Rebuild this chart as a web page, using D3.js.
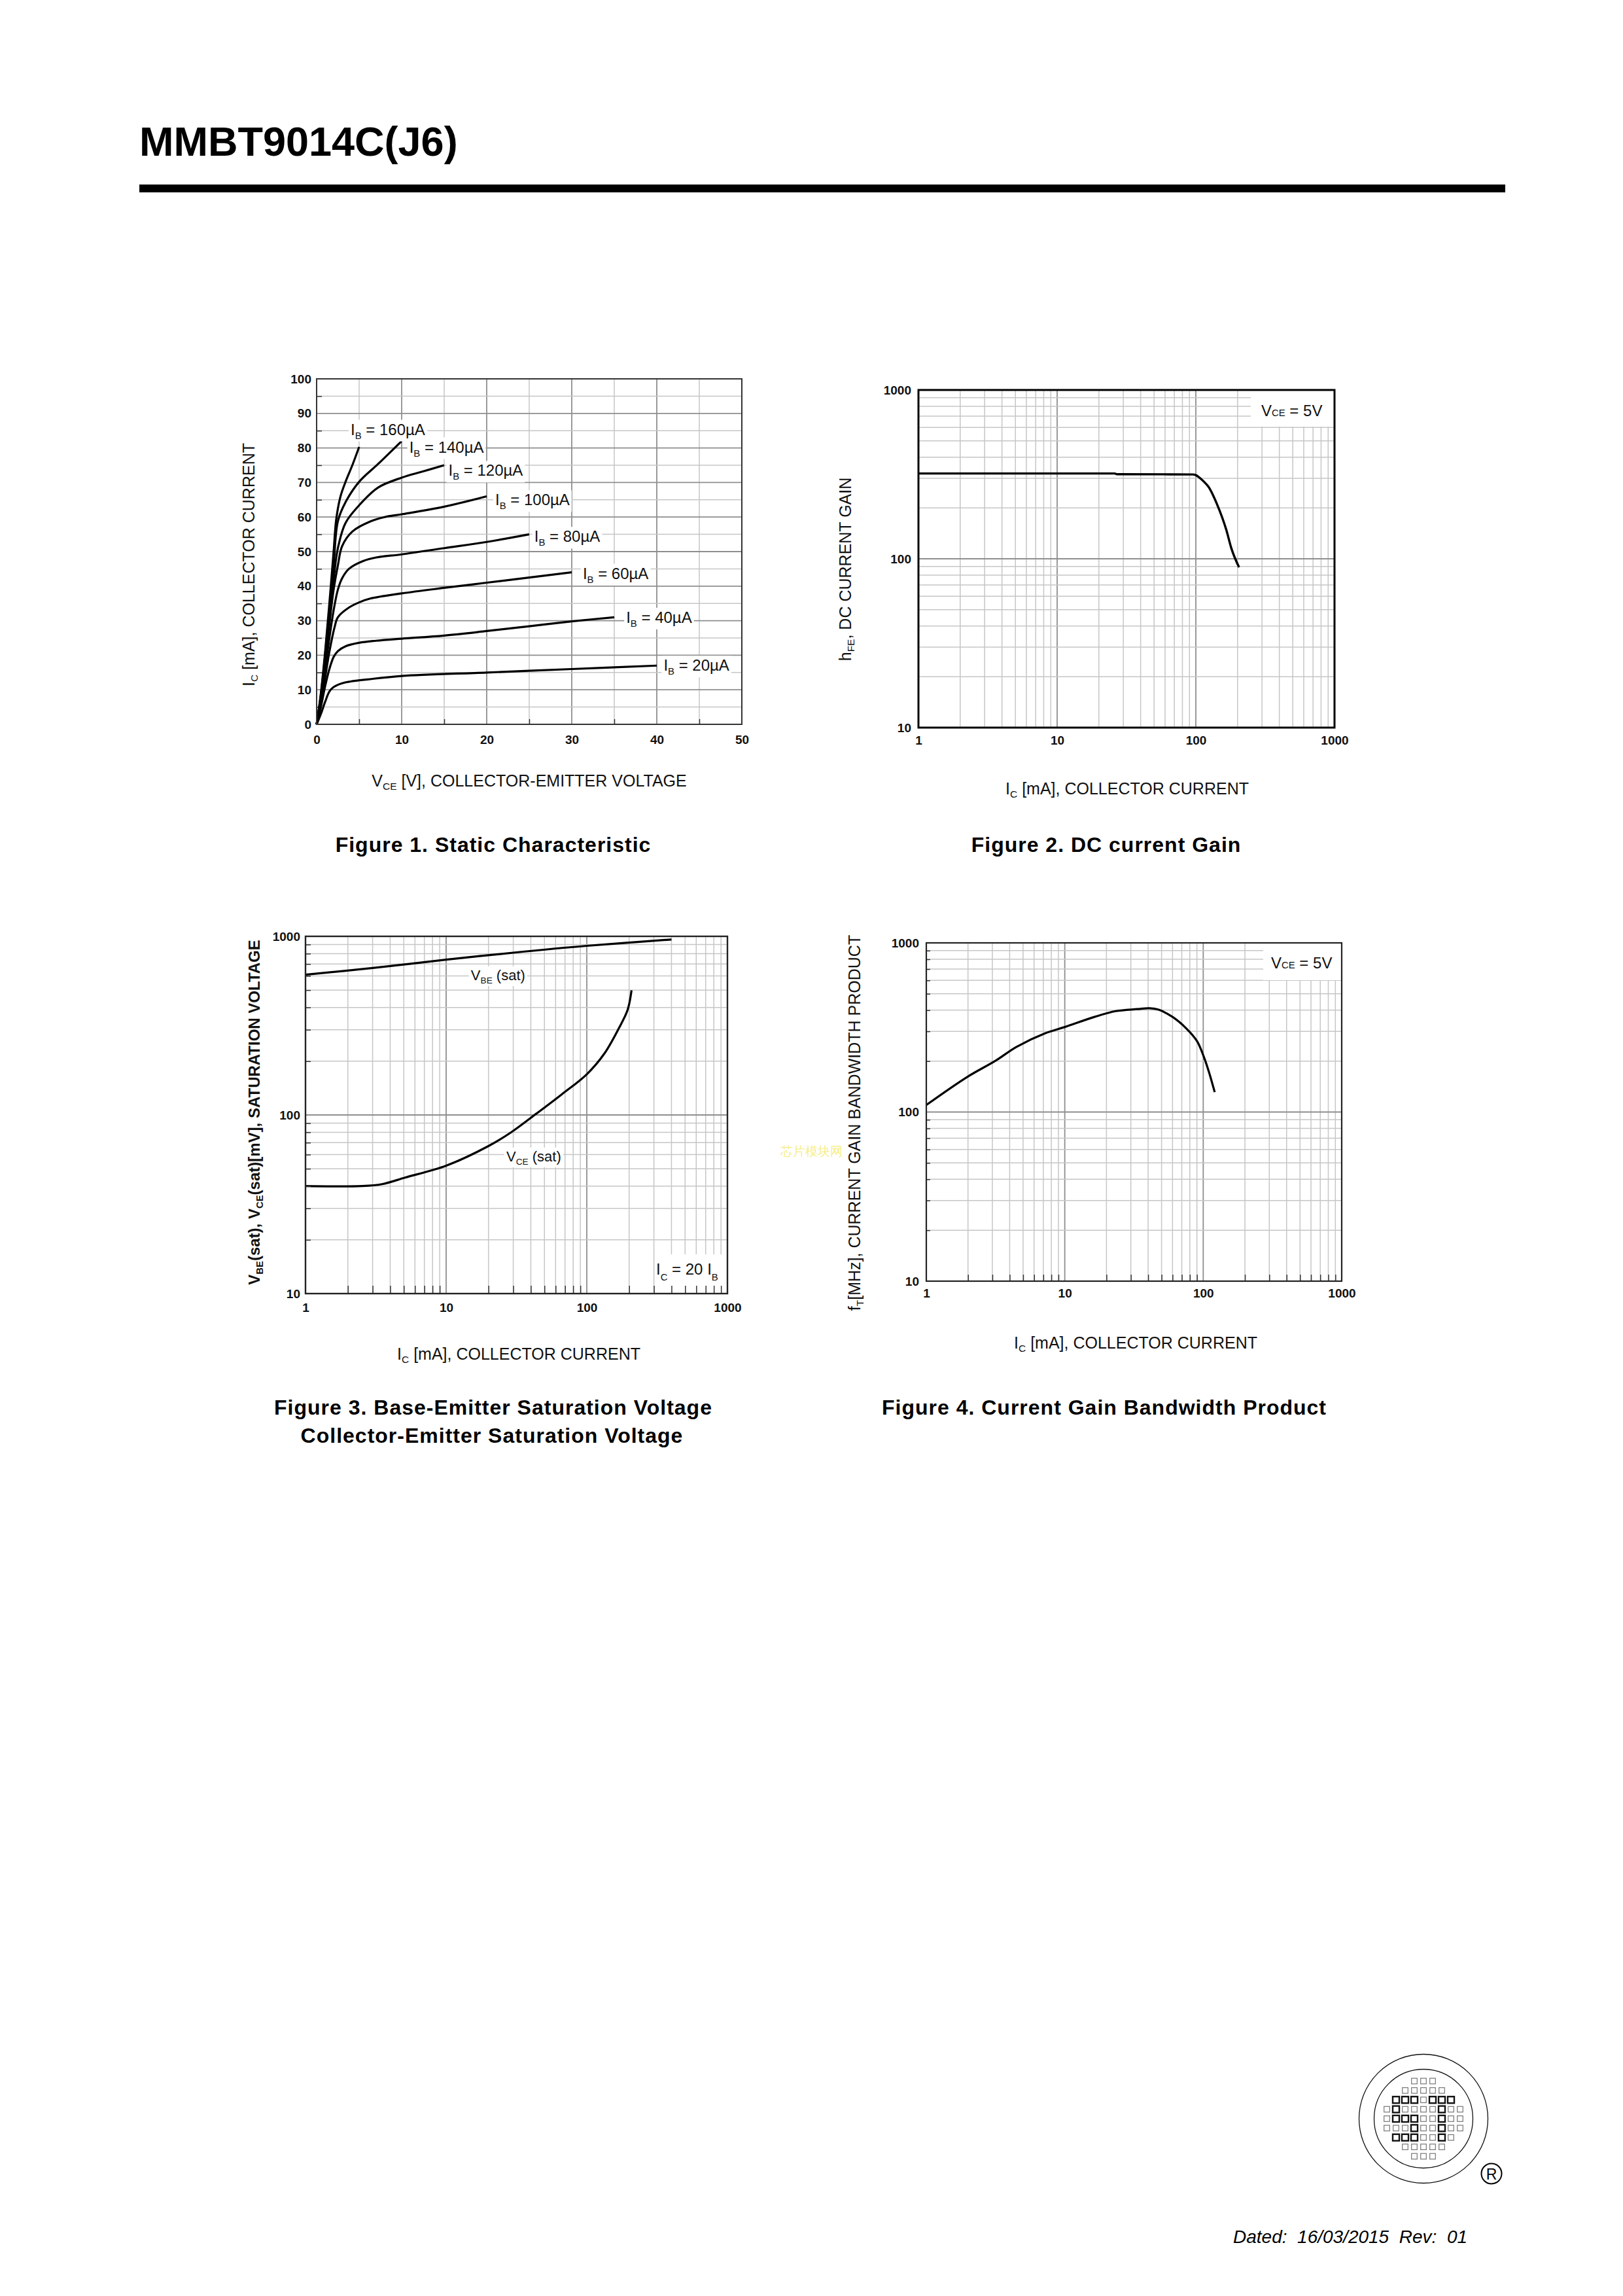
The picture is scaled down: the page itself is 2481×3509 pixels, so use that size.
<!DOCTYPE html>
<html>
<head>
<meta charset="utf-8">
<script src="https://cdn.jsdelivr.net/npm/d3@7"></script>
<style>
  body { margin: 0; background: #fff; }
  text { font-family: "Liberation Sans", Arial, Helvetica, sans-serif; }
</style>
</head>
<body>
<svg id="page"></svg>
<script>
// ---- Figure 1: static characteristic (VCE [V], IC [mA]) ----
const ibLevels = [20, 40, 60, 80, 100, 120, 140, 160];
const icCurves = [
  [[0,0],[0.5,3],[1,6.5],[1.5,9.5],[2,10.8],[3,11.9],[4,12.4],[6,13],[10,14],[20,15],[30,16],[40,17]],
  [[0,0],[0.5,5],[1,11],[1.5,16],[2,19.5],[2.5,21.2],[3.4,22.6],[5,23.6],[7,24.2],[10,24.8],[15,25.7],[20,27],[25,28.4],[30,29.8],[35,31]],
  [[0,0],[0.5,6],[1,13.5],[1.5,21],[2.1,28],[2.5,31],[3.8,33.8],[5,35.3],[6.3,36.4],[10,37.9],[15,39.5],[20,41],[25,42.5],[30,44]],
  [[0,0],[0.5,7],[1,16],[1.5,25],[2,33],[2.5,39],[3,42.3],[3.8,45],[5.5,47.3],[7,48.3],[10,49.2],[15,51],[20,52.8],[25,55]],
  [[0,0],[0.5,7.5],[1,18],[1.5,29],[2,39],[2.5,46],[3,51.6],[4.2,55.8],[6.3,58.7],[8,60],[10,60.8],[15,63],[20,66]],
  [[0,0],[0.5,8],[1,19],[1.5,31],[2,42],[2.5,51],[3.4,58.3],[5,63.4],[7.2,68.5],[10,71.4],[12.5,73.2],[15,75]],
  [[0,0],[0.5,8.5],[1,20],[1.5,33],[2,46],[2.5,58.8],[3.4,64.3],[5,70.2],[7.2,75.3],[10,82]],
  [[0,0],[0.5,9],[1,21],[1.5,35],[2,50],[2.3,59.2],[2.8,65.9],[3.4,70.2],[4.2,75],[5,80.3]]
];
const ibLabelAt = [[40.8,17.1],[36.4,31],[31.3,43.7],[25.6,54.4],[21,65],[15.5,73.5],[10.9,80.3],[4,85.4]];
const vceTicks = [0, 10, 20, 30, 40, 50];
const icTicks = [0, 10, 20, 30, 40, 50, 60, 70, 80, 90, 100];

// ---- Figure 2: DC current gain ----
const hfeIc  = [1, 10, 26, 27, 95, 100, 105, 115, 123, 142, 166, 180, 205];
const hfeVal = [320, 320, 320, 317, 316, 313, 305, 285, 268, 211, 148, 116, 89];

// ---- Figure 3: saturation voltages [mV] vs IC [mA] ----
const vbeSat = [[1,610],[3,665],[10,740],[30,810],[100,885],[400,960]];
const vceSat = [[1,40],[2.5,40],[3.5,41],[5.1,44.6],[10,52],[20,67],[29,80],[44,102],[66,130],[100,169],[133,220],[168,303],[195,387],[208,499]];

// ---- Figure 4: fT [MHz] vs IC [mA] ----
const ftCurve = [[1,110],[1.97,161],[3.16,201],[4.49,243],[7.2,292],[10,318],[16.4,365],[23.4,395],[33.4,406],[41,411],[47.5,403],[60,365],[75.5,312],[90,263],[101,212],[111,168],[121,131]];

const decadeTicks = [1, 10, 100, 1000];
const gainTicks = [10, 100, 1000];

const logoRows = [
  "...ooo...",
  "..ooooo..",
  ".XXXoXXX.",
  "oXooooXoo",
  "oXXXooXoo",
  "oooXooXoo",
  ".XXXooXo.",
  "..ooooo..",
  "...ooo..."
];

const MAJOR = "#8e8e8e", MINOR = "#c6c6c6", INK = "#111";

const svg = d3.select("#page").attr("width", 2481).attr("height", 3509);
svg.append("rect").attr("width", 2481).attr("height", 3509).attr("fill", "#fff");

// text made of normal and subscript runs
function rich(sel, parts, drop) {
  let down = false;
  parts.forEach(([s, sub]) => {
    const t = sel.append("tspan").text(s);
    if (sub) { t.attr("font-size", "0.62em").attr("dy", drop); down = true; }
    else if (down) { t.attr("dy", -drop); down = false; }
  });
  return sel;
}

function grid(g, x, y, xs, ys, majX, majY) {
  const [y0, y1] = y.range(), [x0, x1] = x.range();
  const vx = xs.slice().sort((a, b) => majX(a) - majX(b));
  const hy = ys.slice().sort((a, b) => majY(a) - majY(b));
  g.append("g").selectAll("line").data(vx).join("line")
    .attr("x1", d => x(d)).attr("x2", d => x(d)).attr("y1", y0).attr("y2", y1)
    .attr("stroke", d => majX(d) ? MAJOR : MINOR).attr("stroke-width", d => majX(d) ? 1.8 : 1.5);
  g.append("g").selectAll("line").data(hy).join("line")
    .attr("y1", d => y(d)).attr("y2", d => y(d)).attr("x1", x0).attr("x2", x1)
    .attr("stroke", d => majY(d) ? MAJOR : MINOR).attr("stroke-width", d => majY(d) ? 1.8 : 1.5);
}

function axes(g, x, y, xVals, yVals, padX, padY) {
  const style = a => a.attr("font-family", '"Liberation Sans", Arial, sans-serif')
    .attr("font-size", 19).attr("font-weight", "bold")
    .call(s => s.select(".domain").remove())
    .call(s => s.selectAll("text").attr("fill", INK));
  g.append("g").attr("transform", `translate(0,${y.range()[0]})`)
    .call(d3.axisBottom(x).tickValues(xVals).tickSize(0).tickPadding(padX).tickFormat(d3.format("d")))
    .call(style);
  g.append("g").attr("transform", `translate(${x.range()[0]},0)`)
    .call(d3.axisLeft(y).tickValues(yVals).tickSize(0).tickPadding(padY).tickFormat(d3.format("d")))
    .call(style);
}

function innerTicks(g, x, y, xs, ys, lenX, lenY) {
  const clean = a => a.call(s => s.select(".domain").remove())
    .call(s => s.selectAll("line").attr("stroke", "#333").attr("stroke-width", 1.5));
  g.append("g").attr("transform", `translate(0,${y.range()[0]})`)
    .call(d3.axisBottom(x).tickValues(xs).tickSize(-lenX).tickFormat("")).call(clean);
  g.append("g").attr("transform", `translate(${x.range()[0]},0)`)
    .call(d3.axisLeft(y).tickValues(ys).tickSize(-lenY).tickFormat("")).call(clean);
}

function frame(g, x, y, color, w) {
  const [x0, x1] = x.range(), [y0, y1] = y.range();
  g.append("rect").attr("x", x0).attr("y", y1).attr("width", x1 - x0).attr("height", y0 - y1)
    .attr("fill", "none").attr("stroke", color).attr("stroke-width", w);
}

function yTitle(cx, cy, parts, size, weight) {
  const t = svg.append("text").attr("transform", `translate(${cx},${cy}) rotate(-90)`)
    .attr("text-anchor", "middle").attr("dy", "0.36em").attr("font-size", size)
    .attr("font-weight", weight || "normal").attr("fill", INK);
  return rich(t, parts, 5);
}

function xTitle(cx, base, parts) {
  const t = svg.append("text").attr("x", cx).attr("y", base).attr("text-anchor", "middle")
    .attr("font-size", 25).attr("fill", INK);
  return rich(t, parts, 5);
}

function boxedLabel(g, px, py, parts, size, drop, pad) {
  const t = g.append("text").attr("x", px).attr("y", py).attr("font-size", size).attr("fill", INK);
  rich(t, parts, drop);
  const b = t.node().getBBox();
  g.insert("rect", () => t.node()).attr("x", b.x - pad).attr("y", b.y - 1)
    .attr("width", b.width + 2 * pad).attr("height", b.height + 2).attr("fill", "#fff");
}

const logTicks = x => x.ticks().filter(d => d >= x.domain()[0] && d <= x.domain()[1]);
const isDecade = d => Math.abs(Math.log10(d) - Math.round(Math.log10(d))) < 1e-9;
const minorLog = x => logTicks(x).filter(d => !isDecade(d));
const smooth = d3.curveCatmullRom.alpha(0.5);

// ================= Header =================
svg.append("text").attr("x", 213).attr("y", 238).attr("font-size", 63).attr("font-weight", "bold")
  .attr("fill", "#000").text("MMBT9014C(J6)");
svg.append("rect").attr("x", 213).attr("y", 282).attr("width", 2088).attr("height", 12).attr("fill", "#000");

// ================= Figure 1 =================
{
  const x = d3.scaleLinear([0, 50], [484, 1134]);
  const y = d3.scaleLinear([0, 100], [1107, 579]);
  const g = svg.append("g");
  const gx = d3.range(0, 51, 5), gy = d3.range(0, 101, 5);
  grid(g, x, y, gx, gy, d => d % 10 === 0, d => d % 10 === 0);
  innerTicks(g, x, y, gx.filter(d => d % 10), gy.filter(d => d % 10), 8, 8);
  const line = d3.line().x(d => x(d[0])).y(d => y(d[1])).curve(smooth);
  g.append("g").selectAll("path").data(icCurves).join("path")
    .attr("d", line).attr("fill", "none").attr("stroke", "#000").attr("stroke-width", 3.2)
    .attr("stroke-linejoin", "round");
  ibLevels.forEach((ib, i) => {
    const [v, ma] = ibLabelAt[i];
    boxedLabel(g, x(v), y(ma) + 8.5, [["I", 0], ["B", 1], [` = ${ib}µA`, 0]], 24, 6, 3);
  });
  frame(g, x, y, "#333", 2);
  axes(g, x, y, vceTicks, icTicks, 16.5, 8);
  yTitle(380, 863, [["I", 0], ["C", 1], [" [mA], COLLECTOR CURRENT", 0]], 25);
  xTitle(809, 1202, [["V", 0], ["CE", 1], [" [V], COLLECTOR-EMITTER VOLTAGE", 0]]);
}

// ================= Figure 2 =================
{
  const x = d3.scaleLog([1, 1000], [1404, 2040]);
  const y = d3.scaleLog([10, 1000], [1112, 596]);
  const g = svg.append("g");
  grid(g, x, y, logTicks(x), logTicks(y), isDecade, isDecade);
  g.append("rect").attr("x", 1912).attr("y", 596).attr("width", 128).attr("height", 56).attr("fill", "#fff");
  const t = g.append("text").attr("x", 1928).attr("y", 636).attr("font-size", 24).attr("fill", INK);
  rich(t, [["V", 0], ["CE", 1], [" = 5V", 0]], 0);
  const line = d3.line().x(d => x(d[0])).y(d => y(d[1])).curve(d3.curveMonotoneX);
  g.append("path").datum(hfeIc.map((c, i) => [c, hfeVal[i]]))
    .attr("d", line).attr("fill", "none").attr("stroke", "#000").attr("stroke-width", 3.4);
  frame(g, x, y, "#000", 3);
  axes(g, x, y, decadeTicks, gainTicks, 12.5, 11);
  yTitle(1292, 870, [["h", 0], ["FE", 1], [", DC CURRENT GAIN", 0]], 25);
  xTitle(1723, 1214, [["I", 0], ["C", 1], [" [mA], COLLECTOR CURRENT", 0]]);
}

// ================= Figure 3 =================
{
  const x = d3.scaleLog([1, 1000], [467, 1112]);
  const y = d3.scaleLog([10, 1000], [1977, 1431]);
  const g = svg.append("g");
  grid(g, x, y, logTicks(x), logTicks(y), isDecade, isDecade);
  const line = d3.line().x(d => x(d[0])).y(d => y(d[1])).curve(smooth);
  g.append("g").selectAll("path").data([vbeSat, vceSat]).join("path")
    .attr("d", line).attr("fill", "none").attr("stroke", "#000").attr("stroke-width", 3.2);
  boxedLabel(g, x(15), y(569), [["V", 0], ["BE", 1], [" (sat)", 0]], 22, 5, 3);
  boxedLabel(g, x(26.8), y(55), [["V", 0], ["CE", 1], [" (sat)", 0]], 22, 5, 3);
  g.append("rect").attr("x", 1001).attr("y", 1917).attr("width", 111).attr("height", 60).attr("fill", "#fff");
  const t = g.append("text").attr("x", 1003).attr("y", 1948).attr("font-size", 24).attr("fill", INK);
  rich(t, [["I", 0], ["C", 1], [" = 20 I", 0], ["B", 1]], 9);
  innerTicks(g, x, y, minorLog(x), minorLog(y), 12, 8);
  frame(g, x, y, "#222", 2.4);
  axes(g, x, y, decadeTicks, gainTicks, 14.5, 8);
  yTitle(388, 1700, [["V", 0], ["BE", 1], ["(sat), V", 0], ["CE", 1], ["(sat)[mV], SATURATION VOLTAGE", 0]], 24, "bold");
  xTitle(793, 2078, [["I", 0], ["C", 1], [" [mA], COLLECTOR CURRENT", 0]]);
}

// ================= Figure 4 =================
{
  const x = d3.scaleLog([1, 1000], [1416, 2051]);
  const y = d3.scaleLog([10, 1000], [1958, 1441]);
  const g = svg.append("g");
  grid(g, x, y, logTicks(x), logTicks(y), isDecade, isDecade);
  g.append("rect").attr("x", 1931).attr("y", 1441).attr("width", 120).attr("height", 57).attr("fill", "#fff");
  const t = g.append("text").attr("x", 1943).attr("y", 1480).attr("font-size", 24).attr("fill", INK);
  rich(t, [["V", 0], ["CE", 1], [" = 5V", 0]], 0);
  const line = d3.line().x(d => x(d[0])).y(d => y(d[1])).curve(smooth);
  g.append("path").datum(ftCurve)
    .attr("d", line).attr("fill", "none").attr("stroke", "#000").attr("stroke-width", 3.2);
  innerTicks(g, x, y, minorLog(x), minorLog(y), 10, 6);
  frame(g, x, y, "#222", 2.2);
  axes(g, x, y, decadeTicks, gainTicks, 11.5, 11);
  yTitle(1306, 1716, [["f", 0], ["T", 1], ["[MHz], CURRENT GAIN BANDWIDTH PRODUCT", 0]], 25);
  xTitle(1736, 2061, [["I", 0], ["C", 1], [" [mA], COLLECTOR CURRENT", 0]]);
}

// watermark
svg.append("text").attr("x", 1193).attr("y", 1766).attr("font-size", 19)
  .attr("font-family", '"Noto Sans CJK SC", sans-serif').attr("fill", "#f6ee88").text("芯片模块网");

// ================= Captions =================
const cap = (x, y, s) => svg.append("text").attr("x", x).attr("y", y).attr("text-anchor", "middle")
  .attr("font-size", 32).attr("font-weight", "bold").attr("letter-spacing", 1).attr("fill", "#000").text(s);
cap(754, 1302, "Figure 1. Static Characteristic");
cap(1691, 1302, "Figure 2. DC current Gain");
cap(754, 2162, "Figure 3. Base-Emitter Saturation Voltage");
cap(752, 2205, "Collector-Emitter Saturation Voltage");
cap(1688, 2162, "Figure 4. Current Gain Bandwidth Product");

// ================= Logo and footer =================
{
  const cx = 2176, cy = 3238;
  const logo = svg.append("g");
  logo.append("circle").attr("cx", cx).attr("cy", cy).attr("r", 98.5).attr("fill", "none").attr("stroke", "#111").attr("stroke-width", 1.3);
  logo.append("circle").attr("cx", cx).attr("cy", cy).attr("r", 75.5).attr("fill", "none").attr("stroke", "#111").attr("stroke-width", 1.3);
  const cells = [];
  logoRows.forEach((row, r) => row.split("").forEach((ch, c) => { if (ch !== ".") cells.push({ r, c, bold: ch === "X" }); }));
  const sx = d3.scaleLinear([0, 8], [cx - 56, cx + 56]);
  const sy = d3.scaleLinear([0, 8], [cy - 57.5, cy + 57.5]);
  logo.selectAll("rect").data(cells).join("rect")
    .attr("x", d => sx(d.c) - (d.bold ? 5 : 4.3)).attr("y", d => sy(d.r) - (d.bold ? 5 : 4.3))
    .attr("width", d => d.bold ? 10 : 8.6).attr("height", d => d.bold ? 10 : 8.6)
    .attr("fill", "none").attr("stroke", d => d.bold ? "#111" : "#777")
    .attr("stroke-width", d => d.bold ? 2.4 : 1.2);
  logo.append("circle").attr("cx", 2280).attr("cy", 3322).attr("r", 15.5).attr("fill", "none").attr("stroke", "#000").attr("stroke-width", 2);
  logo.append("text").attr("x", 2280).attr("y", 3330.5).attr("text-anchor", "middle").attr("font-size", 23).attr("fill", "#000").text("R");
}
svg.append("text").attr("x", 1885).attr("y", 3428).attr("font-size", 28).attr("font-style", "italic")
  .attr("fill", "#000").style("white-space", "pre").text("Dated:  16/03/2015  Rev:  01");
</script>
</body>
</html>
